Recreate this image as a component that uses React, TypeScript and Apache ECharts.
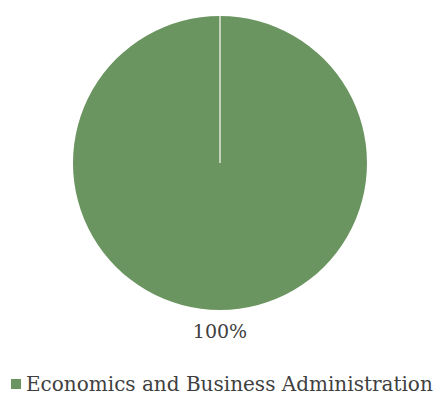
import React, { useEffect, useRef } from "react";
import * as echarts from "echarts";

const categories = ["Economics and Business Administration"];
const values = [100];
const colors = ["#6B9560"];

const CX = 220;
const CY = 163;
const R = 147;

export default function App() {
  const ref = useRef<HTMLDivElement>(null);
  useEffect(() => {
    if (!ref.current) return;
    const chart = echarts.init(ref.current, undefined, { renderer: "svg" });
    const total = values.reduce((a, b) => a + b, 0);
    const pctText = `${Math.round((values[0] / total) * 100)}%`;
    chart.setOption({
      animation: false,
      color: colors,
      title: {
        text: pctText,
        left: CX,
        top: 321,
        padding: 0,
        textAlign: "center",
        textStyle: { fontFamily: "DejaVu Serif", fontSize: 19, fontWeight: "normal", color: "#404040" },
      },
      legend: {
        data: categories,
        left: 11,
        top: 374,
        padding: 0,
        icon: "rect",
        itemWidth: 10,
        itemHeight: 10,
        itemGap: 10,
        textStyle: { fontFamily: "DejaVu Serif", fontSize: 20, color: "#404040" },
      },
      series: [
        {
          type: "pie",
          center: [CX, CY],
          radius: [0, R],
          startAngle: 90,
          clockwise: true,
          data: categories.map((c, i) => ({ name: c, value: values[i] })),
          itemStyle: { borderWidth: 0 },
          label: { show: false },
          labelLine: { show: false },
          emphasis: { disabled: true },
        },
      ],
      graphic: [
        {
          type: "line",
          shape: { x1: CX, y1: CY - R, x2: CX, y2: CY },
          style: { stroke: "#C5D3BD", lineWidth: 2 },
          z: 100,
        },
      ],
    });
    return () => chart.dispose();
  }, []);
  return (
    <div
      ref={ref}
      style={{ position: "absolute", left: 0, top: 0, width: 440, height: 395 }}
    />
  );
}
